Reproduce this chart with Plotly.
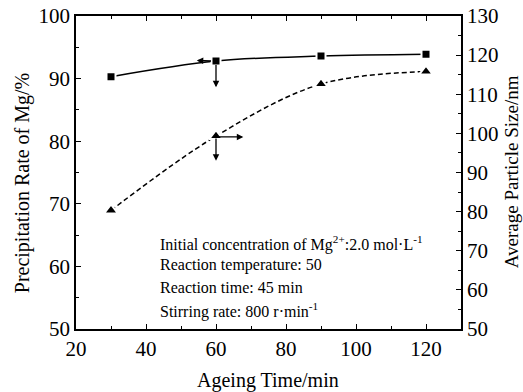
import plotly.graph_objects as go

ageing_time = [30, 60, 90, 120]
precip_rate = [90.3, 92.8, 93.6, 93.9]
particle_size = [80.3, 99.3, 112.6, 115.8]

x_ticks = [20, 40, 60, 80, 100, 120]
y_ticks = [50, 60, 70, 80, 90, 100]
y2_ticks = [50, 60, 70, 80, 90, 100, 110, 120, 130]

info_lines = [
    "Initial concentration of Mg<sup>2+</sup>:2.0 mol·L<sup>-1</sup>",
    "Reaction temperature: 50",
    "Reaction time: 45 min",
    "Stirring rate: 800 r·min<sup>-1</sup>",
]

FONT = "Liberation Serif, Times New Roman, serif"

fig = go.Figure()
fig.add_trace(go.Scatter(
    x=ageing_time, y=precip_rate, mode="lines+markers",
    line=dict(color="black", width=1.5, shape="spline"),
    marker=dict(symbol="square", size=9, color="black", line=dict(color="white", width=2)),
    yaxis="y", showlegend=False))
fig.add_trace(go.Scatter(
    x=ageing_time, y=particle_size, mode="lines+markers",
    line=dict(color="black", width=1.5, dash="5px,3px", shape="spline"),
    marker=dict(symbol="triangle-up", size=12, color="black", line=dict(color="white", width=2)),
    yaxis="y2", showlegend=False))

axis_common = dict(
    showgrid=False, zeroline=False, showline=True, linecolor="black", linewidth=1.5,
    ticks="inside", ticklen=5, tickwidth=1.2, tickcolor="black", automargin=False,
    tickfont=dict(family=FONT, size=21, color="black"),
)

fig.update_layout(
    width=523, height=392,
    margin=dict(l=76, r=62, t=16, b=63, autoexpand=False),
    paper_bgcolor="white", plot_bgcolor="white",
    font=dict(family=FONT, color="black"),
    xaxis=dict(range=[20, 130], tickvals=x_ticks, mirror="ticks",
               minor=dict(ticks="inside", ticklen=3, dtick=10, tick0=30, tickcolor="black"),
               **axis_common),
    yaxis=dict(range=[50, 100], tickvals=y_ticks,
               minor=dict(ticks="inside", ticklen=3, dtick=5, tickcolor="black"),
               **axis_common),
    yaxis2=dict(range=[50, 130], tickvals=y2_ticks, overlaying="y", side="right",
                minor=dict(ticks="inside", ticklen=3, dtick=5, tickcolor="black"),
                **axis_common),
)

ann = []
# titles
ann.append(dict(text="Ageing Time/min", x=0.499, y=-0.165, xref="paper", yref="paper",
                showarrow=False, font=dict(size=20, family=FONT), xanchor="center", yanchor="middle"))
ann.append(dict(text="Precipitation Rate of Mg/%", x=-0.14, y=0.466, xref="paper", yref="paper",
                showarrow=False, textangle=-90, font=dict(size=20, family=FONT),
                xanchor="center", yanchor="middle"))
ann.append(dict(text="Average Particle Size/nm", x=1.13, y=0.501, xref="paper", yref="paper",
                showarrow=False, textangle=-90, font=dict(size=19, family=FONT),
                xanchor="center", yanchor="middle"))
# info text
info_y = [0.273, 0.203, 0.132, 0.059]
for t, yy in zip(info_lines, info_y):
    ann.append(dict(text=t, x=0.213, y=yy, xref="paper", yref="paper", showarrow=False,
                    font=dict(size=16, family=FONT), xanchor="left", yanchor="middle", align="left"))

arrow_style = dict(showarrow=True, arrowhead=2, arrowsize=1, arrowwidth=1.3, arrowcolor="black", text="")
# square (left axis) arrows
ann.append(dict(x=54.5, y=92.9, ax=59, ay=92.8, xref="x", yref="y", axref="x", ayref="y", **arrow_style))
ann.append(dict(x=60, y=88.6, ax=60, ay=92.4, xref="x", yref="y", axref="x", ayref="y", **arrow_style))
# triangle (right axis) arrows
ann.append(dict(x=67.8, y=99.1, ax=60, ay=99.1, xref="x", yref="y2", axref="x", ayref="y2", **arrow_style))
ann.append(dict(x=60, y=93.0, ax=60, ay=99.1, xref="x", yref="y2", axref="x", ayref="y2", **arrow_style))

fig.update_layout(annotations=ann)
fig.write_html(
    "out.html",
    config={"responsive": False, "displayModeBar": False},
    default_width="523px",
    default_height="392px",
    post_script="document.body.style.margin='0';document.body.style.overflow='hidden';",
)
